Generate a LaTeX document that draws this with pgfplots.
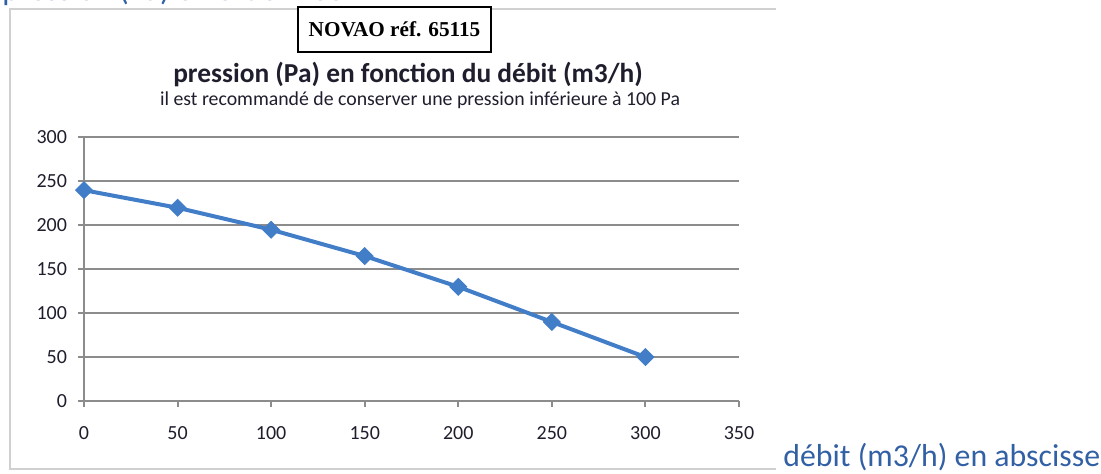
\documentclass[border=0pt]{standalone}
\usepackage{pgfplots}
\pgfplotsset{compat=1.18}
\usepackage{fontspec}
\setmainfont{Carlito}
\newfontfamily\serifbold{Liberation Serif}
\definecolor{lineblue}{RGB}{66,125,200}
\definecolor{axisgray}{RGB}{140,140,140}
\definecolor{bordergray}{RGB}{208,208,208}
\definecolor{labelblue}{RGB}{50,96,165}
\definecolor{textdark}{RGB}{30,30,45}
\begin{document}
\begin{tikzpicture}
\path[use as bounding box] (0pt,0pt) rectangle (550.5pt,237pt);
% outer chart border (left, top, bottom)
\draw[bordergray, line width=1pt] (388pt,232.5pt) -- (5pt,232.5pt) -- (5pt,2.5pt) -- (388pt,2.5pt);
% partially visible y label at top
\node[anchor=base west, inner sep=0pt, text=labelblue, font=\fontsize{16}{18}\selectfont] at (1pt,236.9pt) {pression (Pa) en ordonnée};
\begin{axis}[
  at={(42pt,36.5pt)}, anchor=south west,
  scale only axis, width=327.5pt, height=131.75pt,
  xmin=0, xmax=350, ymin=0, ymax=300,
  xtick={0,50,...,350}, ytick={0,50,...,300},
  axis x line*=bottom, axis y line*=left,
  axis line style={draw=axisgray, line width=1pt, -},
  ymajorgrids, major grid style={draw=axisgray, line width=1pt},
  tick align=outside, major tick length=3pt,
  tick style={draw=axisgray, line width=1pt},
  ticklabel style={font=\fontsize{10}{12}\selectfont, text=textdark},
  /pgf/number format/assume math mode=true,
  xticklabel style={yshift=-6.2pt},
  yticklabel style={xshift=-2.0pt},
  clip=false,
]
\addplot[color=lineblue, line width=2pt, mark=square*, mark size=3pt,
  mark options={solid, rotate=45, fill=lineblue, line width=0.4pt}]
  coordinates {(0,240) (50,220) (100,195) (150,165) (200,130) (250,90) (300,50)};
\end{axis}
% title and subtitle
\node[anchor=base, inner sep=0pt, font=\bfseries\fontsize{13.7}{15}\selectfont, text=textdark] at (204pt,195.5pt) {pression (Pa) en fonction du débit (m3/h)};
\node[anchor=base, inner sep=0pt, font=\fontsize{9.9}{11}\selectfont, text=textdark] at (210pt,184pt) {il est recommandé de conserver une pression inférieure à 100 Pa};
% reference box
\node[draw=black, fill=white, line width=0.6pt, minimum width=96.5pt, minimum height=22.5pt, inner sep=0pt, font=\serifbold\bfseries\fontsize{10.6}{12}\selectfont] at (197.25pt,222.25pt) {NOVAO réf. 65115};
% x label
\node[anchor=base west, inner sep=0pt, text=labelblue, font=\fontsize{15.9}{18}\selectfont] at (391.5pt,3.5pt) {débit (m3/h) en abscisse};
\end{tikzpicture}
\end{document}
